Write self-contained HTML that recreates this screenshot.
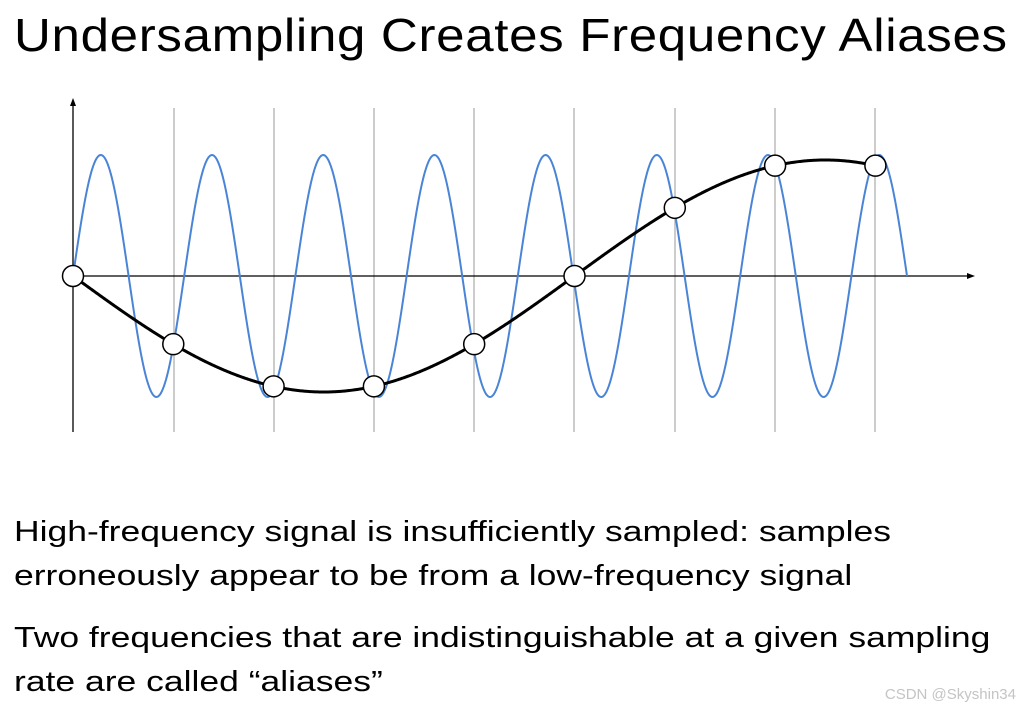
<!DOCTYPE html>
<html><head><meta charset="utf-8">
<style>
html,body{margin:0;padding:0;background:#fff;width:1024px;height:713px;overflow:hidden;position:relative;font-family:"Liberation Sans",sans-serif;}
.t{position:absolute;white-space:nowrap;color:#000;transform-origin:0 0;}
#title{left:14px;top:8px;font-size:46px;letter-spacing:0.6px;transform:scaleX(1.11);}
.b{font-size:28.5px;left:14px;transform:scaleX(1.245);}
#wm{position:absolute;right:8px;top:686px;font-size:15px;color:#c4c4c4;}
svg{position:absolute;left:0;top:0;}
</style></head><body>
<div class="t" id="title">Undersampling Creates Frequency Aliases</div>
<svg width="1024" height="713" id="s">
<g stroke="#b0b0b0" stroke-width="1.3">
<line x1="174" y1="108" x2="174" y2="432"/><line x1="274" y1="108" x2="274" y2="432"/>
<line x1="374" y1="108" x2="374" y2="432"/><line x1="474" y1="108" x2="474" y2="432"/>
<line x1="574" y1="108" x2="574" y2="432"/><line x1="675" y1="108" x2="675" y2="432"/>
<line x1="775" y1="108" x2="775" y2="432"/><line x1="875" y1="108" x2="875" y2="432"/>
</g>
<g stroke="#000" stroke-width="1.3" fill="#000">
<line x1="73" y1="432" x2="73" y2="104"/><polygon points="73,98 70,106 76,106" stroke="none"/>
<line x1="73" y1="276" x2="968" y2="276"/><polygon points="975,276 967,273 967,279" stroke="none"/>
</g>
<path id="blue" fill="none" stroke="#4a84d6" stroke-width="2"/>
<path id="black" fill="none" stroke="#000" stroke-width="3"/>
<g id="dots" fill="#fff" stroke="#000" stroke-width="1.5"></g>
</svg>
<div class="t b" style="top:516px">High-frequency signal is insufficiently sampled: samples</div>
<div class="t b" style="top:560px">erroneously appear to be from a low-frequency signal</div>
<div class="t b" style="top:622px">Two frequencies that are indistinguishable at a given sampling</div>
<div class="t b" style="top:666px">rate are called “aliases”</div>
<div id="wm">CSDN @Skyshin34</div>
<script>
var x0=73,y0=276,A=121,B=116,T=100.3,P=834/7.5;
var d="",e="";
for(var x=x0;x<=907;x+=1){var y=y0-A*Math.sin(2*Math.PI*(x-x0)/P);d+=(x==x0?"M":"L")+x+","+y.toFixed(2);}
for(var x=x0;x<=875;x+=1){var y=y0+B*Math.sin(2*Math.PI*(x-x0)/(10*T));e+=(x==x0?"M":"L")+x+","+y.toFixed(2);}
document.getElementById("blue").setAttribute("d",d);
document.getElementById("black").setAttribute("d",e);
var g=document.getElementById("dots"),h="";
for(var n=0;n<=8;n++){var x=x0+n*T,y=y0+B*Math.sin(2*Math.PI*n/10);h+='<circle cx="'+x+'" cy="'+y+'" r="10.5"/>';}
g.innerHTML=h;
</script>
</body></html>
